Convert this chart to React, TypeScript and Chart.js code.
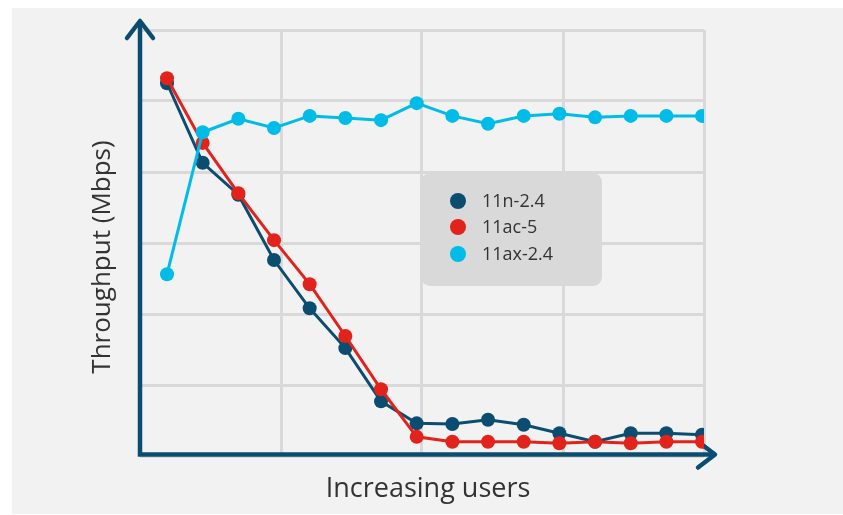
import { useEffect, useRef } from "react";
import { Chart, registerables } from "chart.js";

Chart.register(...registerables);

// x: user steps (no tick labels shown on the reference)
const userSteps = [1, 2, 3, 4, 5, 6, 7, 8, 9, 10, 11, 12, 13, 14, 15, 16];
// series (throughput, relative units 0..6 on the grid)
const n24 = [5.25, 4.13, 3.68, 2.76, 2.08, 1.52, 0.77, 0.46, 0.45, 0.51, 0.44, 0.32, 0.2, 0.32, 0.32, 0.3];
const ac5 = [5.32, 4.41, 3.7, 3.04, 2.42, 1.69, 0.94, 0.27, 0.2, 0.2, 0.2, 0.18, 0.2, 0.18, 0.2, 0.2];
const ax24 = [2.56, 4.56, 4.75, 4.62, 4.79, 4.76, 4.73, 4.97, 4.79, 4.68, 4.79, 4.82, 4.77, 4.79, 4.79, 4.79];
const seriesNames = ["11n-2.4", "11ac-5", "11ax-2.4"];
const xTitle = "Increasing users";
const yTitle = "Throughput (Mbps)";

const DARK = "#0a4d70";
const RED = "#e2231c";
const CYAN = "#00bce8";
const GRID = "#d9d9d9";
const TEXT = "#333333";

const bgPlugin = {
  id: "bg",
  beforeDraw(chart: any) {
    const { ctx, width, height } = chart;
    ctx.save();
    ctx.fillStyle = "#ffffff";
    ctx.fillRect(0, 0, width, height);
    ctx.fillStyle = "#f2f2f2";
    ctx.fillRect(12, 8, width - 12, height - 9);
    ctx.restore();
  },
};

const axesPlugin = {
  id: "arrowAxes",
  beforeDatasetsDraw(chart: any) {
    const { ctx, chartArea } = chart;
    const l = chartArea.left;
    const b = chartArea.bottom - 1.5;
    ctx.save();
    ctx.strokeStyle = DARK;
    ctx.lineWidth = 4.5;
    ctx.lineCap = "round";
    ctx.lineJoin = "round";
    ctx.beginPath();
    ctx.moveTo(l - 13, 38);
    ctx.lineTo(l, 21);
    ctx.lineTo(l + 13, 38);
    ctx.moveTo(698, b - 13);
    ctx.lineTo(715, b);
    ctx.lineTo(698, b + 13);
    ctx.stroke();
    ctx.lineCap = "butt";
    ctx.lineJoin = "miter";
    ctx.beginPath();
    ctx.moveTo(l, 21);
    ctx.lineTo(l, b);
    ctx.lineTo(715, b);
    ctx.stroke();
    ctx.restore();
  },
};

const legendPlugin = {
  id: "boxLegend",
  afterDatasetsDraw(chart: any) {
    const { ctx } = chart;
    ctx.save();
    ctx.fillStyle = "#d9d9d9";
    ctx.beginPath();
    ctx.roundRect(421, 173, 181, 113, 9);
    ctx.fill();
    const rows = [201, 227, 254];
    chart.data.datasets.forEach((ds: any, i: number) => {
      ctx.fillStyle = ds.borderColor;
      ctx.beginPath();
      ctx.arc(458, rows[i], 8, 0, Math.PI * 2);
      ctx.fill();
      ctx.fillStyle = TEXT;
      ctx.font = "18px 'Open Sans'";
      ctx.textAlign = "left";
      ctx.textBaseline = "middle";
      ctx.fillText(ds.label, 482, rows[i] + 1);
    });
    ctx.restore();
  },
};

const titlesPlugin = {
  id: "titles",
  afterDraw(chart: any) {
    const { ctx } = chart;
    ctx.save();
    ctx.fillStyle = TEXT;
    ctx.font = "27px 'Open Sans'";
    ctx.textAlign = "center";
    ctx.textBaseline = "alphabetic";
    ctx.fillText(xTitle, 428, 497);
    ctx.translate(110, 257);
    ctx.rotate(-Math.PI / 2);
    ctx.font = "26px 'Open Sans'";
    ctx.fillText(yTitle, 0, 0);
    ctx.restore();
  },
};

export default function App() {
  const ref = useRef<HTMLCanvasElement>(null);
  useEffect(() => {
    const canvas = ref.current;
    if (!canvas) return;
    const mk = (vals: number[]) => userSteps.map((u, i) => ({ x: u, y: vals[i] }));
    const chart = new Chart(canvas, {
      type: "line",
      data: {
        datasets: [
          { label: seriesNames[0], data: mk(n24), borderColor: DARK, backgroundColor: DARK, order: 3 },
          { label: seriesNames[1], data: mk(ac5), borderColor: RED, backgroundColor: RED, order: 2 },
          { label: seriesNames[2], data: mk(ax24), borderColor: CYAN, backgroundColor: CYAN, order: 1 },
        ],
      },
      options: {
        responsive: false,
        animation: false,
        events: [],
        layout: { padding: { left: 140, right: 139, top: 30, bottom: 59 } },
        plugins: { legend: { display: false }, tooltip: { enabled: false } },
        elements: {
          point: { radius: 7, borderWidth: 0, hoverRadius: 7 },
          line: { borderWidth: 3, tension: 0 },
        },
        scales: {
          x: {
            type: "linear",
            min: 0.243,
            max: 16.055,
            afterBuildTicks: (scale: any) => {
              const step = (scale.max - scale.min) / 4;
              scale.ticks = [0, 1, 2, 3, 4].map((k) => ({ value: scale.min + k * step }));
            },
            ticks: { display: false },
            grid: { color: GRID, lineWidth: 3, drawTicks: false },
            border: { display: false },
          },
          y: {
            min: 0,
            max: 6,
            ticks: { display: false, stepSize: 1 },
            grid: { color: GRID, lineWidth: 3, drawTicks: false },
            border: { display: false },
          },
        },
      },
      plugins: [bgPlugin, axesPlugin, legendPlugin, titlesPlugin],
    } as any);
    return () => chart.destroy();
  }, []);
  return (
    <div style={{ position: "fixed", left: 0, top: 0, width: 843, height: 515 }}>
      <canvas ref={ref} width={843} height={515} style={{ display: "block" }} />
    </div>
  );
}
